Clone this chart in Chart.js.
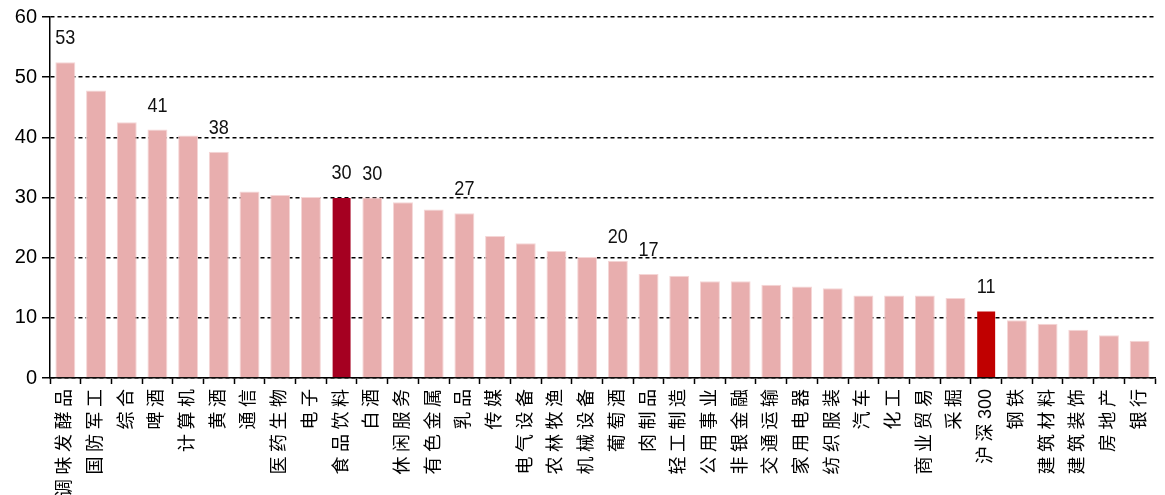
<!DOCTYPE html>
<html>
<head>
<meta charset="utf-8">
<script src="https://cdn.jsdelivr.net/npm/chart.js@4.4.1/dist/chart.umd.min.js"></script>
<style>
  html, body { margin: 0; padding: 0; background: #fff; }
</style>
</head>
<body>
<canvas id="chart-industry" width="1165" height="495"></canvas>
<script>
// industry names (x axis)
const categories = [
  '调味发酵品', '国防军工', '综合', '啤酒', '计算机', '黄酒', '通信', '医药生物', '电子',
  '食品饮料', '白酒', '休闲服务', '有色金属', '乳品', '传媒', '电气设备', '农林牧渔', '机械设备',
  '葡萄酒', '肉制品', '轻工制造', '公用事业', '非银金融', '交通运输', '家用电器', '纺织服装',
  '汽车', '化工', '商业贸易', '采掘', '沪深300', '钢铁', '建筑材料', '建筑装饰', '房地产', '银行',
];

const values = [
  52.5, 47.8, 42.5, 41.3, 40.3, 37.6, 31.0, 30.4, 30.1,
  30.1, 30.0, 29.2, 28.0, 27.4, 23.6, 22.4, 21.1, 20.1,
  19.5, 17.3, 17.0, 16.1, 16.1, 15.5, 15.2, 14.9,
  13.7, 13.7, 13.7, 13.3, 11.2, 9.6, 9.0, 8.0, 7.1, 6.2,
];

// only some bars carry a value label
const valueLabels = [
  '53', '', '', '41', '', '38', '', '', '',
  '30', '30', '', '', '27', '', '', '', '',
  '20', '17', '', '', '', '', '', '',
  '', '', '', '', '11', '', '', '', '', '',
];

const yMin = 0;
const yMax = 60;
const yStep = 10;

const numFont = "'Liberation Sans', Arial, sans-serif";
const cjkFont = "'Liberation Sans', 'Noto Sans CJK SC', sans-serif";

function barColor(name) {
  if (name === '食品饮料') return '#A50021';
  if (name === '沪深300') return '#C00000';
  return '#E8AEAE';
}

function barEdge(name) {
  if (name === '食品饮料' || name === '沪深300') return 'rgba(0,0,0,0)';
  return '#F5D6D6';
}

// value labels above selected bars (squeezed a bit, the original uses a narrow face)
const valueLabelPlugin = {
  id: 'valueLabels',
  afterDatasetsDraw(chart) {
    const ctx = chart.ctx;
    const meta = chart.getDatasetMeta(0);
    ctx.save();
    ctx.font = `21px ${numFont}`;
    ctx.fillStyle = '#111';
    ctx.textAlign = 'center';
    ctx.textBaseline = 'middle';
    meta.data.forEach((bar, i) => {
      if (!valueLabels[i]) return;
      ctx.save();
      ctx.translate(bar.x, bar.y - 23.5);
      ctx.scale(0.86, 1);
      ctx.fillText(valueLabels[i], 0, 0);
      ctx.restore();
    });
    ctx.restore();
  },
};

// vertical category labels, CJK characters spread apart
const xLabelPlugin = {
  id: 'xLabels',
  afterDraw(chart) {
    const ctx = chart.ctx;
    const x = chart.scales.x;
    const gap = 4.5;
    ctx.save();
    ctx.font = `18px ${cjkFont}`;
    ctx.fillStyle = '#000';
    ctx.textAlign = 'left';
    ctx.textBaseline = 'middle';
    categories.forEach((label, i) => {
      const runs = label.match(/[\x00-\x7f]+|[^\x00-\x7f]/g);
      const widths = runs.map(r => ctx.measureText(r).width);
      const total = widths.reduce((a, b) => a + b, 0) + gap * (runs.length - 1);
      ctx.save();
      ctx.translate(x.getPixelForValue(i), x.top + 11);
      ctx.rotate(-Math.PI / 2);
      let pos = -total;
      runs.forEach((r, k) => {
        ctx.fillText(r, pos, 0);
        pos += widths[k] + gap;
      });
      ctx.restore();
    });
    ctx.restore();
  },
};

new Chart(document.getElementById('chart-industry'), {
  type: 'bar',
  data: {
    labels: categories,
    datasets: [{
      data: values,
      backgroundColor: categories.map(barColor),
      borderColor: categories.map(barEdge),
      borderWidth: 1,
      barPercentage: 0.65,
      categoryPercentage: 1,
    }],
  },
  options: {
    responsive: false,
    animation: false,
    layout: { padding: { top: 17, right: 10, left: 0, bottom: 0 } },
    plugins: {
      legend: { display: false },
      tooltip: { enabled: false },
    },
    scales: {
      x: {
        grid: {
          display: true,
          drawOnChartArea: false,
          drawTicks: true,
          tickLength: 6,
          color: '#000',
          tickColor: '#000',
          tickWidth: 1.5,
          offset: true,
        },
        border: { display: true, color: '#000', width: 1.5 },
        ticks: { autoSkip: false, maxRotation: 0, color: 'rgba(0,0,0,0)', callback: () => ' ' },
        afterFit(scale) { scale.height = 117; },
      },
      y: {
        min: yMin,
        max: yMax,
        ticks: {
          stepSize: yStep,
          font: { family: numFont, size: 20 },
          color: '#000',
          padding: 5,
        },
        grid: {
          display: true,
          color: '#000',
          lineWidth: 1.5,
          tickLength: 8,
          tickColor: '#000',
          tickWidth: 1.5,
        },
        border: { display: true, color: '#000', width: 1.5, dash: [4, 3] },
        afterFit(scale) { scale.width = 50; },
      },
    },
  },
  plugins: [valueLabelPlugin, xLabelPlugin],
});
</script>
</body>
</html>
